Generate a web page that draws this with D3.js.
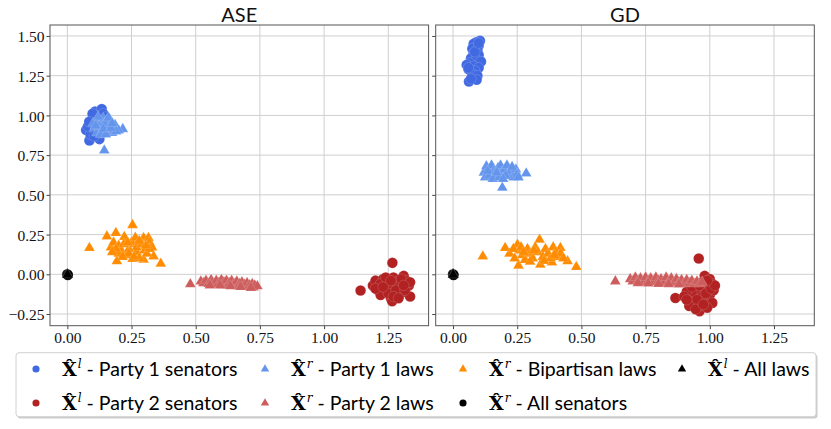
<!DOCTYPE html>
<html lang="en">
<head>
<meta charset="utf-8">
<title>ASE vs GD embeddings</title>
<script src="https://d3js.org/d3.v7.min.js"></script>
<style>
  body { margin: 0; background: #fff; }
  .tick text { font-family: "Liberation Serif", "DejaVu Serif", serif; font-size: 15.5px; fill: #111; }
</style>
</head>
<body>
<div id="chart"></div>
<script>
// ---- tick labels ----
var xTicks = [0, 0.25, 0.5, 0.75, 1.0, 1.25];
var yTicks = [-0.25, 0, 0.25, 0.5, 0.75, 1.0, 1.25, 1.5];
var panelTitles = ["ASE", "GD"];

// ---- ASE panel ----
var aseParty1Senators = [[0.073,0.908],[0.086,0.842],[0.125,0.851],[0.108,1.025],[0.134,1.04],[0.095,0.95],[0.1,0.99],[0.115,0.97],[0.12,1.0],[0.09,0.88],[0.105,0.87],[0.13,0.93],[0.14,1.01],[0.08,0.93],[0.11,0.91],[0.145,0.96],[0.098,1.01],[0.125,0.89],[0.085,0.96],[0.15,0.99]];
var aseParty2Senators = [[1.142,-0.102],[1.266,0.072],[1.19,-0.07],[1.2,-0.04],[1.21,-0.1],[1.22,-0.13],[1.23,-0.03],[1.24,-0.06],[1.25,-0.09],[1.26,-0.15],[1.265,-0.17],[1.27,-0.02],[1.28,-0.05],[1.29,-0.08],[1.3,-0.12],[1.31,-0.01],[1.32,-0.04],[1.33,-0.07],[1.335,-0.14],[1.3,-0.03],[1.25,-0.12],[1.22,-0.06],[1.28,-0.1],[1.24,-0.02],[1.315,-0.1],[1.27,-0.14],[1.2,-0.09],[1.335,-0.05],[1.29,-0.15],[1.23,-0.08],[1.26,-0.04],[1.31,-0.07]];
var aseParty1Laws = [[0.144,0.78],[0.186,0.94],[0.216,0.914],[0.174,0.89],[0.2,0.905],[0.16,0.9],[0.15,0.93],[0.13,0.95],[0.12,0.97],[0.11,0.96],[0.14,0.98],[0.17,0.96],[0.155,0.97],[0.105,0.92],[0.115,0.89],[0.135,0.9],[0.125,0.93],[0.145,0.95],[0.165,0.93],[0.18,0.91],[0.19,0.9],[0.1,0.95],[0.13,0.88],[0.15,0.88],[0.12,0.99],[0.16,0.985],[0.14,0.915],[0.17,0.92],[0.11,0.935],[0.175,0.95]];
var aseParty2Laws = [[0.479,-0.062],[0.52,-0.045],[0.53,-0.055],[0.54,-0.04],[0.55,-0.06],[0.56,-0.035],[0.565,-0.05],[0.57,-0.065],[0.58,-0.04],[0.59,-0.055],[0.6,-0.035],[0.605,-0.068],[0.61,-0.05],[0.62,-0.04],[0.625,-0.07],[0.63,-0.055],[0.64,-0.04],[0.645,-0.072],[0.65,-0.06],[0.66,-0.045],[0.665,-0.075],[0.67,-0.06],[0.68,-0.05],[0.685,-0.078],[0.69,-0.065],[0.7,-0.055],[0.705,-0.08],[0.71,-0.068],[0.72,-0.06],[0.725,-0.082],[0.73,-0.07],[0.74,-0.075],[0.555,-0.07],[0.595,-0.07],[0.635,-0.075],[0.675,-0.08],[0.715,-0.085]];
var aseBipartisanLaws = [[0.086,0.166],[0.254,0.31],[0.154,0.239],[0.189,0.26],[0.364,0.067],[0.336,0.113],[0.193,0.082],[0.254,0.097],[0.222,0.235],[0.297,0.229],[0.316,0.229],[0.32,0.2],[0.33,0.17],[0.17,0.17],[0.18,0.2],[0.2,0.18],[0.21,0.15],[0.23,0.12],[0.24,0.16],[0.26,0.19],[0.27,0.14],[0.297,0.092],[0.3,0.15],[0.31,0.13],[0.2,0.13],[0.22,0.19],[0.25,0.2],[0.27,0.17],[0.28,0.1],[0.19,0.16],[0.24,0.13],[0.32,0.16],[0.26,0.11],[0.215,0.11],[0.29,0.19],[0.305,0.18],[0.235,0.2],[0.175,0.14],[0.265,0.23],[0.28,0.21]];
var aseAllSenators = [[0,0],[0.002,-0.004]];
var aseAllLaws = [[0,0],[0.001,-0.003]];

// ---- GD panel ----
var gdParty1Senators = [[0.105,1.47],[0.09,1.46],[0.08,1.45],[0.1,1.44],[0.075,1.42],[0.095,1.41],[0.08,1.39],[0.1,1.38],[0.07,1.36],[0.09,1.35],[0.109,1.339],[0.065,1.33],[0.053,1.318],[0.08,1.31],[0.1,1.3],[0.06,1.29],[0.085,1.28],[0.075,1.26],[0.095,1.25],[0.062,1.213],[0.092,1.224],[0.07,1.23],[0.085,1.4],[0.06,1.3],[0.1,1.455]];
var gdParty2Senators = [[0.957,0.099],[0.866,-0.149],[0.96,-0.232],[0.98,-0.01],[1.0,-0.03],[1.01,-0.06],[0.99,-0.08],[0.97,-0.05],[0.95,-0.1],[0.93,-0.12],[0.91,-0.11],[0.9,-0.14],[0.92,-0.17],[0.94,-0.19],[0.96,-0.2],[0.98,-0.16],[1.0,-0.13],[1.015,-0.1],[1.01,-0.18],[0.99,-0.21],[0.97,-0.14],[0.95,-0.16],[0.93,-0.08],[0.96,-0.07],[0.985,-0.12],[1.005,-0.09],[0.92,-0.2],[0.945,-0.22],[0.975,-0.19],[1.02,-0.07],[0.99,-0.04],[0.91,-0.16]];
var gdParty1Laws = [[0.192,0.545],[0.285,0.635],[0.12,0.64],[0.125,0.61],[0.13,0.68],[0.14,0.66],[0.15,0.685],[0.16,0.65],[0.165,0.62],[0.175,0.67],[0.185,0.685],[0.19,0.64],[0.2,0.66],[0.21,0.685],[0.215,0.63],[0.225,0.65],[0.235,0.61],[0.245,0.66],[0.25,0.63],[0.14,0.62],[0.155,0.6],[0.18,0.61],[0.205,0.62],[0.23,0.675],[0.17,0.64],[0.135,0.65],[0.255,0.61],[0.195,0.6]];
var gdParty2Laws = [[0.632,-0.044],[0.69,-0.03],[0.7,-0.045],[0.71,-0.02],[0.72,-0.04],[0.73,-0.025],[0.74,-0.05],[0.75,-0.02],[0.76,-0.04],[0.77,-0.025],[0.78,-0.05],[0.79,-0.02],[0.8,-0.04],[0.81,-0.03],[0.82,-0.055],[0.83,-0.02],[0.84,-0.045],[0.85,-0.025],[0.86,-0.055],[0.87,-0.03],[0.88,-0.05],[0.89,-0.035],[0.9,-0.06],[0.91,-0.035],[0.92,-0.055],[0.93,-0.04],[0.94,-0.06],[0.95,-0.045],[0.96,-0.06],[0.97,-0.05],[0.72,-0.055],[0.76,-0.058],[0.8,-0.06],[0.84,-0.062],[0.88,-0.064]];
var gdBipartisanLaws = [[0.116,0.113],[0.203,0.166],[0.251,0.187],[0.337,0.218],[0.418,0.166],[0.446,0.082],[0.48,0.046],[0.255,0.055],[0.34,0.061],[0.385,0.075],[0.22,0.13],[0.24,0.1],[0.26,0.15],[0.27,0.12],[0.28,0.09],[0.29,0.16],[0.3,0.13],[0.31,0.1],[0.32,0.17],[0.33,0.14],[0.35,0.11],[0.36,0.16],[0.37,0.13],[0.38,0.1],[0.39,0.17],[0.4,0.14],[0.41,0.11],[0.42,0.13],[0.43,0.1],[0.3,0.08],[0.265,0.17],[0.355,0.085],[0.235,0.16],[0.395,0.12],[0.315,0.15],[0.275,0.14]];
var gdAllSenators = [[0,0],[0.002,-0.004]];
var gdAllLaws = [[0,0],[0.001,-0.003]];

// series in plotting order (also legend order, column-major)
var series = [
  {key: "p1s", label: "Party 1 senators", sup: "l", color: "#4169e1", shape: "circle"},
  {key: "p2s", label: "Party 2 senators", sup: "l", color: "#b22222", shape: "circle"},
  {key: "p1l", label: "Party 1 laws", sup: "r", color: "#6495ed", shape: "triangle"},
  {key: "p2l", label: "Party 2 laws", sup: "r", color: "#cd5c5c", shape: "triangle"},
  {key: "bil", label: "Bipartisan laws", sup: "r", color: "#ff8c00", shape: "triangle"},
  {key: "alls", label: "All senators", sup: "r", color: "#000000", shape: "circle"},
  {key: "alll", label: "All laws", sup: "l", color: "#000000", shape: "triangle"}
];

var panelData = [
  {p1s: aseParty1Senators, p2s: aseParty2Senators, p1l: aseParty1Laws, p2l: aseParty2Laws, bil: aseBipartisanLaws, alls: aseAllSenators, alll: aseAllLaws},
  {p1s: gdParty1Senators, p2s: gdParty2Senators, p1l: gdParty1Laws, p2l: gdParty2Laws, bil: gdBipartisanLaws, alls: gdAllSenators, alll: gdAllLaws}
];

var w = 831, h = 429;
var panelLeft = [50, 435.7];
var panelW = 378.6;
var plotTop = 25, plotBottom = 325.7;

var svg = d3.select("#chart").append("svg")
    .attr("width", w)
    .attr("height", h);

var yScale = d3.scaleLinear()
    .domain([-0.3235, 1.569])
    .range([plotBottom, plotTop]);

var circleSym = d3.symbol().type(d3.symbolCircle).size(88);
var triSym = d3.symbol().type(d3.symbolTriangle).size(50);

panelTitles.forEach(function(title, i) {
    var left = panelLeft[i];
    var xScale = d3.scaleLinear()
        .domain([-0.0675, 1.407])
        .range([left, left + panelW]);

    var g = svg.append("g");

    // grid
    g.selectAll("line.gx").data(xTicks).enter().append("line")
        .attr("x1", function(d) { return xScale(d); })
        .attr("x2", function(d) { return xScale(d); })
        .attr("y1", plotTop).attr("y2", plotBottom)
        .attr("stroke", "#cfcfcf").attr("stroke-width", 1);
    g.selectAll("line.gy").data(yTicks).enter().append("line")
        .attr("y1", function(d) { return yScale(d); })
        .attr("y2", function(d) { return yScale(d); })
        .attr("x1", left).attr("x2", left + panelW)
        .attr("stroke", "#cfcfcf").attr("stroke-width", 1);

    // axes
    var xAxis = d3.axisBottom(xScale)
        .tickValues(xTicks)
        .tickSize(3.5)
        .tickPadding(3)
        .tickFormat(d3.format(".2f"));
    var gx = g.append("g")
        .attr("transform", "translate(0," + plotBottom + ")")
        .call(xAxis);
    gx.select(".domain").remove();
    gx.selectAll(".tick line").attr("stroke", "#444");

    var yAxis = d3.axisLeft(yScale)
        .tickValues(yTicks)
        .tickSize(3.5)
        .tickPadding(2)
        .tickFormat(i === 0 ? d3.format(".2f") : "");
    var gy = g.append("g")
        .attr("transform", "translate(" + left + ",0)")
        .call(yAxis);
    gy.select(".domain").remove();
    gy.selectAll(".tick line").attr("stroke", "#444");
    gy.selectAll(".tick text").attr("dy", "0.36em");

    // points
    var clip = "clip" + i;
    svg.append("clipPath").attr("id", clip).append("rect")
        .attr("x", left).attr("y", plotTop)
        .attr("width", panelW).attr("height", plotBottom - plotTop);
    var pts = g.append("g").attr("clip-path", "url(#" + clip + ")");

    series.forEach(function(s) {
        pts.append("g").selectAll("path")
            .data(panelData[i][s.key])
            .enter().append("path")
            .attr("d", s.shape === "circle" ? circleSym : triSym)
            .attr("transform", function(d) {
                return "translate(" + xScale(d[0]) + "," + yScale(d[1]) + ")";
            })
            .attr("fill", s.color)
            .attr("stroke", "#fff")
            .attr("stroke-width", 0.3)
            .attr("stroke-opacity", 0.5);
    });

    // frame
    g.append("rect")
        .attr("x", left).attr("y", plotTop)
        .attr("width", panelW).attr("height", plotBottom - plotTop)
        .attr("fill", "none")
        .attr("stroke", "#555")
        .attr("stroke-width", 1);

    // title
    g.append("text")
        .attr("x", left + panelW / 2)
        .attr("y", 21.5)
        .attr("text-anchor", "middle")
        .style("font-family", "Lato, 'DejaVu Sans', sans-serif")
        .style("font-size", "20px")
        .attr("fill", "#111")
        .text(title);
});

// legend
var legend = svg.append("g");
legend.append("rect")
    .attr("x", 17.5).attr("y", 354.5)
    .attr("width", 800).attr("height", 64)
    .attr("rx", 3)
    .attr("fill", "#999").attr("opacity", 0.5);
legend.append("rect")
    .attr("x", 16).attr("y", 352.7)
    .attr("width", 800).attr("height", 64)
    .attr("rx", 3)
    .attr("fill", "#fff")
    .attr("stroke", "#d0d0d0");

var colX = [36, 265, 463, 682];
var rowY = [369, 403];
var legCircle = d3.symbol().type(d3.symbolCircle).size(40);
var legTri = d3.symbol().type(d3.symbolTriangle).size(30);

series.forEach(function(s, k) {
    var col = Math.floor(k / 2), row = k % 2;
    var x = colX[col], y = rowY[row];
    legend.append("path")
        .attr("d", s.shape === "circle" ? legCircle : legTri)
        .attr("transform", "translate(" + x + "," + y + ")")
        .attr("fill", s.color);

    var t = legend.append("text")
        .attr("x", x + 26)
        .attr("y", y + 7)
        .attr("fill", "#000");
    t.append("tspan")
        .style("font-family", "'DejaVu Serif', serif")
        .style("font-weight", "bold")
        .style("font-size", "19px")
        .text("X\u0302");
    t.append("tspan")
        .attr("dy", -8)
        .attr("dx", 1)
        .style("font-family", "'DejaVu Serif', serif")
        .style("font-style", "italic")
        .style("font-size", "12px")
        .text(s.sup);
    t.append("tspan")
        .attr("dy", 8)
        .style("font-family", "Lato, 'DejaVu Sans', sans-serif")
        .style("font-size", "19.5px")
        .text(" - " + s.label);
});
</script>
</body>
</html>
